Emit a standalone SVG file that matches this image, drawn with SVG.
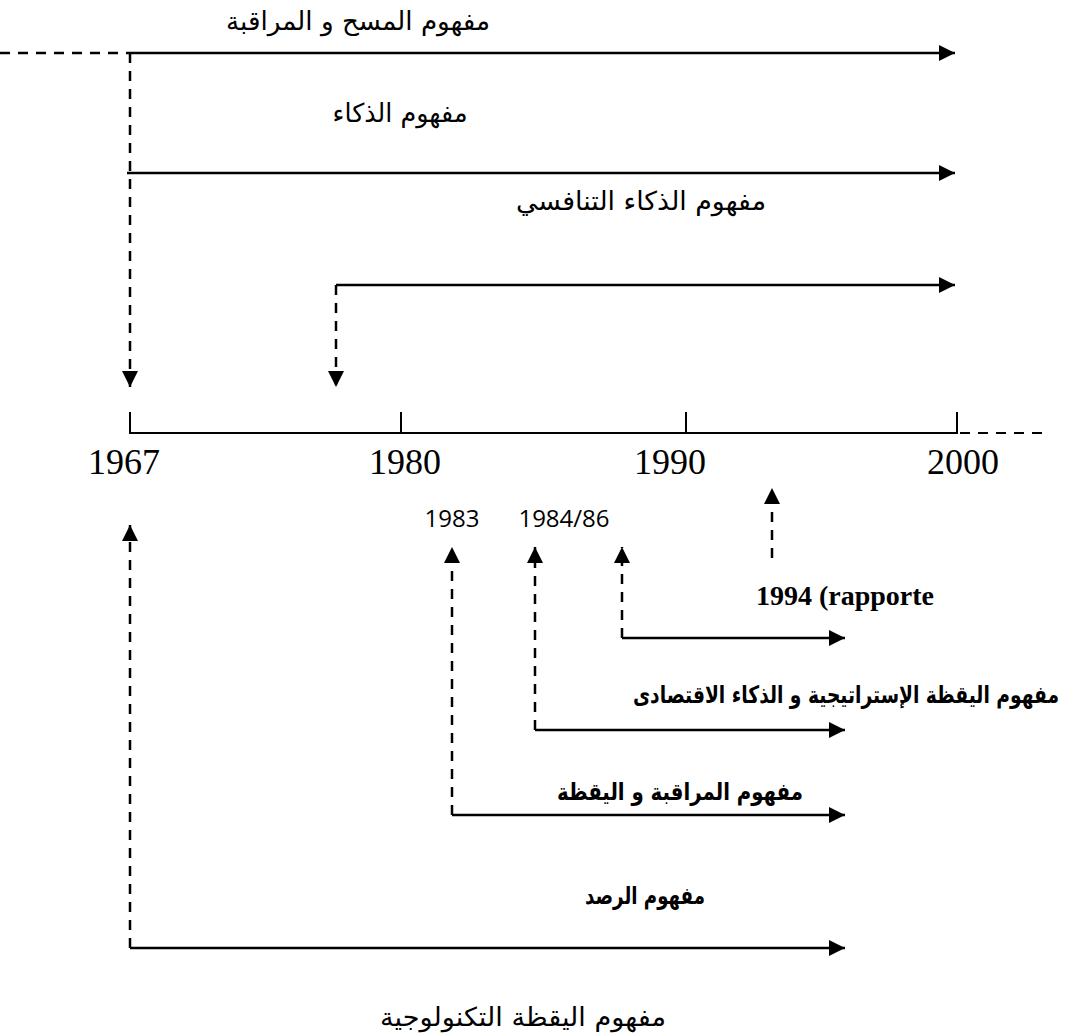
<svg xmlns="http://www.w3.org/2000/svg" width="1072" height="1035" viewBox="0 0 1072 1035">
<style>
.ln{fill:none;stroke:#000;stroke-width:2.5}
.ds{fill:none;stroke:#000;stroke-width:2.5;stroke-dasharray:10 8}
.ax{fill:none;stroke:#000;stroke-width:2}
.axd{fill:none;stroke:#000;stroke-width:2;stroke-dasharray:10 8}
.yr{font-family:"Liberation Serif","Times New Roman",serif;font-size:36px;text-anchor:middle}
.sm{font-family:"Open Sans","Noto Sans",sans-serif;font-size:24px;text-anchor:middle}
.ar{font-family:"DejaVu Sans","Noto Sans",sans-serif;font-size:26px;text-anchor:middle;direction:rtl}
.arb{font-family:"DejaVu Sans","Noto Sans",sans-serif;font-size:24px;font-weight:bold;text-anchor:middle;direction:rtl}
.rb{font-family:"Liberation Serif","Times New Roman",serif;font-size:28px;font-weight:bold;text-anchor:middle}
</style>
<defs>
<marker id="ah" viewBox="0 0 16 16" refX="16" refY="8" markerWidth="16" markerHeight="16" orient="auto" markerUnits="userSpaceOnUse"><path d="M0,0 L16,8 L0,16 z" fill="#000"/></marker>
</defs>
<g id="connectors">
<path class="ds" d="M0,53 H127"/>
<path class="ln" d="M127,53 H955" marker-end="url(#ah)"/>
<path class="ln" d="M127,173 H955" marker-end="url(#ah)"/>
<path class="ds" d="M130,53 V387" marker-end="url(#ah)"/>
<path class="ln" d="M336,285 H955" marker-end="url(#ah)"/>
<path class="ds" d="M336,285 V387" marker-end="url(#ah)"/>
<path class="ds" d="M772,558 V488" marker-end="url(#ah)"/>
<path class="ds" d="M622,638 V547" marker-end="url(#ah)"/>
<path class="ln" d="M622,638 H845" marker-end="url(#ah)"/>
<path class="ds" d="M535,730 V547" marker-end="url(#ah)"/>
<path class="ln" d="M535,730 H845" marker-end="url(#ah)"/>
<path class="ds" d="M452,815 V547" marker-end="url(#ah)"/>
<path class="ln" d="M452,815 H845" marker-end="url(#ah)"/>
<path class="ds" d="M130,948 V525" marker-end="url(#ah)"/>
<path class="ln" d="M130,948 H845" marker-end="url(#ah)"/>
</g>
<g id="axis">
<path class="ax" d="M130,412 V433 H957 V412 M401,412 V433 M686,412 V433"/>
<path class="axd" d="M960,433 H1045"/>
<text class="yr" x="124" y="474">1967</text>
<text class="yr" x="405" y="474">1980</text>
<text class="yr" x="670" y="474">1990</text>
<text class="yr" x="963" y="474">2000</text>
</g>
<g id="n-surveillance"><text class="ar" x="358" y="30" textLength="264" lengthAdjust="spacingAndGlyphs">مفهوم المسح و المراقبة</text></g>
<g id="n-intelligence"><text class="ar" x="400" y="122" textLength="135" lengthAdjust="spacingAndGlyphs">مفهوم الذكاء</text></g>
<g id="n-competitive"><text class="ar" x="641" y="210" textLength="250" lengthAdjust="spacingAndGlyphs">مفهوم الذكاء التنافسي</text></g>
<g id="n-1983"><text class="sm" x="452" y="527">1983</text></g>
<g id="n-1984"><text class="sm" x="564" y="527">1984/86</text></g>
<g id="n-1994"><text class="rb" x="845" y="605">1994 (rapporte</text></g>
<g id="n-strategic"><text class="arb" x="1059" y="703" style="text-anchor:start" textLength="426" lengthAdjust="spacingAndGlyphs">مفهوم اليقظة الإستراتيجية و الذكاء الاقتصادى</text></g>
<g id="n-monitoring"><text class="arb" x="680" y="800" textLength="246" lengthAdjust="spacingAndGlyphs">مفهوم المراقبة و اليقظة</text></g>
<g id="n-observation"><text class="arb" x="645" y="904" textLength="120" lengthAdjust="spacingAndGlyphs">مفهوم الرصد</text></g>
<g id="n-technological"><text class="ar" x="523" y="1026" font-size="30" textLength="286" lengthAdjust="spacingAndGlyphs">مفهوم اليقظة التكنولوجية</text></g>
</svg>
